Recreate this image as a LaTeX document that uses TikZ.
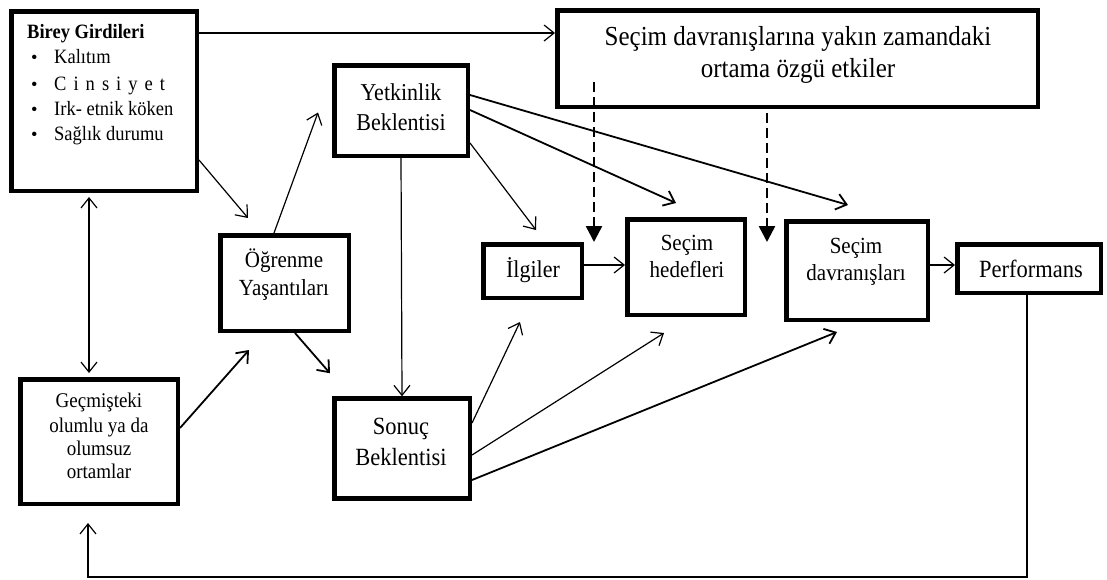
\documentclass[tikz,border=0pt]{standalone}
\usepackage{fontspec}
\usepackage{graphicx}
\setmainfont{Liberation Serif}
\usetikzlibrary{arrows.meta,calc}
\newcommand{\vstr}[1]{\scalebox{1}[1.1]{#1}}
\begin{document}
\begin{tikzpicture}[x=1pt,y=-1pt,
  box/.style={draw, line width=4.5pt, rectangle, inner sep=0pt},
  txt/.style={anchor=base, inner sep=0pt},
  txtl/.style={anchor=base west, inner sep=0pt, font=\fontsize{18.5}{22}\selectfont},
  arr/.style={line width=1.2pt, -{Straight Barb[length=10pt,width=16pt]}},
  arrb/.style={arr, line width=1.8pt},
  dsh/.style={line width=2.5pt, dash pattern=on 10pt off 5pt, -{Triangle[length=16pt,width=16pt]}},
]
\useasboundingbox (0,0) rectangle (1107,579);

% boxes
\node[box, minimum width=185.5pt, minimum height=179.5pt] (birey) at (104,101) {};
\node[box, minimum width=480.5pt, minimum height=96.5pt] (ortam) at (797.5,58.5) {};
\node[box, minimum width=133.5pt, minimum height=90.5pt] (yet) at (401,110.5) {};
\node[box, minimum width=128.5pt, minimum height=95.5pt] (ogr) at (284.5,283) {};
\node[box, minimum width=98.5pt, minimum height=53.5pt] (ilg) at (532.5,271) {};
\node[box, minimum width=117.5pt, minimum height=95.5pt] (hed) at (686,267) {};
\node[box, minimum width=141.5pt, minimum height=98.5pt] (dav) at (857,270.5) {};
\node[box, minimum width=143.5pt, minimum height=48.5pt] (perf) at (1029,268.5) {};
\node[box, minimum width=157.5pt, minimum height=124.5pt] (gec) at (99,441.5) {};
\node[box, minimum width=135.5pt, minimum height=100pt] (son) at (402,448.5) {};

% texts
\node[txtl] (b0) at (27,38) {\vstr{\textbf{Birey Girdileri}}};
\node[txtl] (b1d) at (31,63) {•};
\node[txtl] (b1) at (54,63) {\vstr{Kalıtım}};
\node[txtl] (b2d) at (31,90) {•};
\node[txtl] (b2) at (54,90) {\vstr{\addfontfeature{LetterSpace=38}Cinsiyet}};
\node[txtl] (b3d) at (31,115) {•};
\node[txtl] (b3) at (54,115) {\vstr{Irk- etnik köken}};
\node[txtl] (b4d) at (31,140) {•};
\node[txtl] (b4) at (54,140) {\vstr{Sağlık durumu}};

\node[txt, font=\fontsize{25}{30}\selectfont] (o1) at (798,45) {\vstr{Seçim davranışlarına yakın zamandaki}};
\node[txt, font=\fontsize{25}{30}\selectfont] (o2) at (798,77) {\vstr{ortama özgü etkiler}};
\node[txt, font=\fontsize{22}{26}\selectfont] (y1) at (401,100) {\vstr{Yetkinlik}};
\node[txt, font=\fontsize{22}{26}\selectfont] (y2) at (401,130) {\vstr{Beklentisi}};
\node[txt, font=\fontsize{21}{25}\selectfont] (g1) at (284,267) {\vstr{Öğrenme}};
\node[txt, font=\fontsize{21}{25}\selectfont] (g2) at (284,295) {\vstr{Yaşantıları}};
\node[txt, font=\fontsize{22}{26}\selectfont] (i1) at (533,277) {\vstr{İlgiler}};
\node[txt, font=\fontsize{21}{25}\selectfont] (h1) at (687,250) {\vstr{Seçim}};
\node[txt, font=\fontsize{21}{25}\selectfont] (h2) at (687,277) {\vstr{hedefleri}};
\node[txt, font=\fontsize{21}{25}\selectfont] (d1) at (856,253) {\vstr{Seçim}};
\node[txt, font=\fontsize{21}{25}\selectfont] (d2) at (856,280) {\vstr{davranışları}};
\node[txt, font=\fontsize{22.5}{26}\selectfont] (p1) at (1031,277) {\vstr{Performans}};
\node[txt, font=\fontsize{19}{23}\selectfont] (c1) at (99,407) {\vstr{Geçmişteki}};
\node[txt, font=\fontsize{19}{23}\selectfont] (c2) at (99,432) {\vstr{olumlu ya da}};
\node[txt, font=\fontsize{19}{23}\selectfont] (c3) at (99,455) {\vstr{olumsuz}};
\node[txt, font=\fontsize{19}{23}\selectfont] (c4) at (99,478) {\vstr{ortamlar}};
\node[txt, font=\fontsize{22.5}{27}\selectfont] (s1) at (401,434) {\vstr{Sonuç}};
\node[txt, font=\fontsize{22.5}{27}\selectfont] (s2) at (401,465) {\vstr{Beklentisi}};

% dashed influences
\coordinate (da) at (594,82);
\coordinate (db) at (767,113);
\draw[dsh] (da) -- (da |- ilg.north);
\draw[dsh] (db) -- (db |- ilg.north);

% connectors
\draw[arr] (birey.east |- 0,33) -- (ortam.west |- 0,33);
\draw[arr] (birey.east |- 0,160) -- ($(ogr.north west)+(30,-15)$);
\draw[arr] (ogr.north -| 274,0) -- ($(yet.west)+(-14,2)$);
\draw[arr, {Straight Barb[length=10pt,width=16pt]}-{Straight Barb[length=10pt,width=16pt]}, shorten <=4pt, shorten >=4pt] (gec.north -| 89,0) -- (birey.south -| 89,0);
\draw[arrb] (gec.east |- 0,428) -- ($(ogr.south west)+(31,17)$);
\draw[arrb] (ogr.south -| 295,0) -- ($(son.north west)+(-2,-23)$);
\draw[arr] (yet.south) -- (son.north);
\draw[arr] (yet.east |- 0,143) -- ($(ilg.north west)+(55,-12)$);
\draw[arrb] (yet.east |- 0,110) -- ($(hed.north west)+(51,-14)$);
\draw[arrb] (yet.east |- 0,95) -- ($(dav.north west)+(64,-14)$);
\draw[arr] (ilg.east |- 0,265) -- (hed.west |- 0,265);
\draw[arr] (dav.east |- 0,265) -- (perf.west |- 0,265);
\draw[arr] (son.east |- 0,423) -- ($(ilg.south west)+(39,22)$);
\draw[arr] (son.east |- 0,455) -- ($(hed.south west)+(39,16)$);
\draw[arrb] (son.east |- 0,480) -- ($(dav.south west)+(53,10)$);
\draw[arr] (perf.south -| 1027,0) |- ($(gec.south)+(-11,71)$) -- ($(gec.south)+(-11,17)$);
\end{tikzpicture}
\end{document}
